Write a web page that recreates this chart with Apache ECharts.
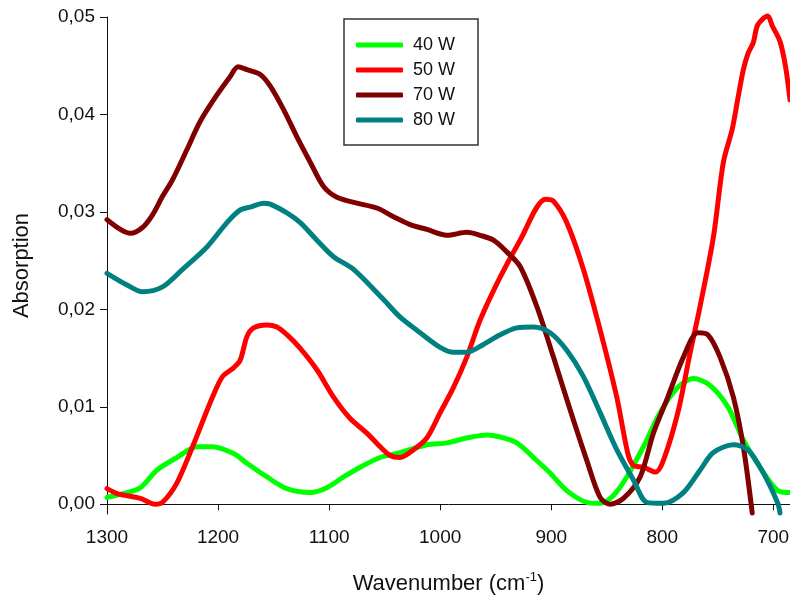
<!DOCTYPE html>
<html>
<head>
<meta charset="utf-8">
<script src="https://cdn.jsdelivr.net/npm/echarts@6/dist/echarts.min.js"></script>
<style>
  html, body { margin: 0; padding: 0; background: #fff; }
  #box1 { width: 790px; height: 600px; }
</style>
</head>
<body>
<div id="box1"></div>
<script>
// wavenumber (cm-1), absorption
let names = ['40 W', '50 W', '70 W', '80 W'];
let colors = ['#00ff00', '#ff0000', '#800000', '#008080'];
let xTicks = [1300, 1200, 1100, 1000, 900, 800, 700];
let yTicks = [0, 0.01, 0.02, 0.03, 0.04, 0.05];

let w40 = [
    [1300, 0.0007], [1282, 0.0012], [1270, 0.0017], [1255, 0.0035], [1237, 0.0048],
    [1219, 0.0059], [1205, 0.0059], [1186, 0.0052], [1174, 0.0042], [1156, 0.0028],
    [1138, 0.0016], [1117, 0.0012], [1102, 0.0017], [1087, 0.0028], [1072, 0.0038],
    [1054, 0.0048], [1036, 0.0053], [1012, 0.0061], [994, 0.0063], [976, 0.0068],
    [958, 0.0071], [946, 0.0069], [931, 0.0063], [916, 0.0048], [901, 0.0032],
    [886, 0.0014], [868, 0.0002], [856, 0.0001], [844, 0.0009], [832, 0.0028],
    [817, 0.0059], [802, 0.0094], [786, 0.0120], [772, 0.0129], [757, 0.0122],
    [741, 0.0100], [727, 0.0066], [712, 0.0038], [696, 0.0014], [685, 0.0012]
];
let w50 = [
    [1300, 0.0016], [1291, 0.0011], [1270, 0.0006], [1257, 0.0000], [1250, 0.0002],
    [1237, 0.0022], [1223, 0.0059], [1205, 0.0110], [1196, 0.0131], [1186, 0.0140],
    [1180, 0.0148], [1174, 0.0172], [1168, 0.0181], [1156, 0.0184], [1147, 0.0182],
    [1138, 0.0174], [1126, 0.0160], [1111, 0.0138], [1096, 0.0110], [1081, 0.0088],
    [1066, 0.0073], [1054, 0.0059], [1045, 0.0050], [1036, 0.0048], [1024, 0.0056],
    [1012, 0.0068], [1000, 0.0094], [988, 0.0120], [976, 0.0151], [964, 0.0189],
    [946, 0.0233], [928, 0.0271], [905, 0.0313], [898, 0.0311], [886, 0.0289],
    [871, 0.0241], [856, 0.0179], [841, 0.0110], [831, 0.0052], [826, 0.0040],
    [817, 0.0038], [806, 0.0033], [799, 0.0045], [786, 0.0094], [775, 0.0155],
    [766, 0.0203], [754, 0.0274], [745, 0.0351], [737, 0.0385], [732, 0.0416],
    [727, 0.0446], [723, 0.0462], [718, 0.0474], [714, 0.0492], [705, 0.0501],
    [701, 0.0491], [694, 0.0475], [689, 0.0449], [685, 0.0415]
];
let w70 = [
    [1300, 0.0292], [1279, 0.0278], [1268, 0.0284], [1259, 0.0297], [1250, 0.0316],
    [1241, 0.0333], [1228, 0.0364], [1216, 0.0393], [1201, 0.0420], [1189, 0.0439],
    [1182, 0.0449], [1174, 0.0446], [1162, 0.0441], [1153, 0.0429], [1141, 0.0405],
    [1129, 0.0377], [1117, 0.0351], [1105, 0.0326], [1093, 0.0315], [1075, 0.0309],
    [1057, 0.0304], [1042, 0.0295], [1027, 0.0287], [1012, 0.0282], [994, 0.0276],
    [976, 0.0279], [964, 0.0276], [952, 0.0271], [940, 0.0259], [928, 0.0244],
    [913, 0.0203], [898, 0.0151], [883, 0.0097], [868, 0.0045], [856, 0.0007],
    [847, 0.0000], [835, 0.0006], [820, 0.0028], [808, 0.0073], [795, 0.0110],
    [781, 0.0151], [768, 0.0176], [759, 0.0174], [748, 0.0151], [736, 0.0110],
    [727, 0.0059], [719, -0.0009]
];
let w80 = [
    [1300, 0.0237], [1282, 0.0225], [1268, 0.0218], [1250, 0.0223], [1232, 0.0241],
    [1210, 0.0264], [1192, 0.0289], [1180, 0.0302], [1171, 0.0305], [1159, 0.0309],
    [1153, 0.0308], [1138, 0.0299], [1126, 0.0289], [1111, 0.0271], [1096, 0.0254],
    [1078, 0.0241], [1051, 0.0210], [1036, 0.0192], [1018, 0.0176], [1000, 0.0161],
    [988, 0.0156], [976, 0.0156], [961, 0.0164], [946, 0.0174], [931, 0.0181],
    [916, 0.0182], [901, 0.0176], [886, 0.0158], [871, 0.0131], [856, 0.0094],
    [841, 0.0056], [826, 0.0025], [814, 0.0002], [799, 0.0001], [781, 0.0012],
    [766, 0.0035], [754, 0.0053], [736, 0.0061], [723, 0.0056], [709, 0.0032],
    [696, 0.0001], [694, -0.0009]
];
let seriesData = [w40, w50, w70, w80];

let font = 'Liberation Sans';
let myChart1 = echarts.init(document.querySelector('#box1'));
let option1 = {
    animation: false,
    grid: { left: 107, right: 0, top: 17, bottom: 86, outerBoundsMode: 'none' },
    legend: {
        orient: 'vertical',
        left: 344,
        top: 19,
        padding: [17, 23, 16, 12],
        icon: 'roundRect',
        itemWidth: 47,
        itemHeight: 5,
        itemGap: 7,
        borderColor: '#333',
        borderWidth: 1.5,
        data: names,
        textStyle: { fontFamily: font, fontSize: 18, color: '#111', padding: [0, 0, 0, 5] }
    },
    xAxis: {
        type: 'value',
        inverse: true,
        min: 685,
        max: 1300,
        name: 'Wavenumber (cm{sup|-1})',
        nameLocation: 'middle',
        nameGap: 57,
        nameTextStyle: {
            fontFamily: font, fontSize: 22, color: '#111',
            rich: { sup: { fontFamily: font, fontSize: 13, color: '#111', padding: [0, 0, 12, 0] } }
        },
        axisLine: { lineStyle: { color: '#111', width: 1 } },
        axisTick: { length: 6, customValues: xTicks, lineStyle: { color: '#111' } },
        axisLabel: {
            customValues: xTicks, fontFamily: font, fontSize: 19, color: '#111', margin: 14,
            formatter: function (v) { return String(v); }
        },
        splitLine: { show: false }
    },
    yAxis: {
        type: 'value',
        min: -0.001,
        max: 0.05,
        name: 'Absorption',
        nameLocation: 'middle',
        nameGap: 74,
        nameTextStyle: { fontFamily: font, fontSize: 22, color: '#111' },
        axisLine: { show: true, lineStyle: { color: '#111', width: 1 } },
        axisTick: { show: true, length: 7, customValues: yTicks, lineStyle: { color: '#111' } },
        axisLabel: {
            customValues: yTicks, fontFamily: font, fontSize: 19, color: '#111', margin: 12,
            formatter: function (v) { return v.toFixed(2).replace('.', ','); }
        },
        splitLine: { show: false }
    },
    series: seriesData.map(function (d, i) {
        return {
            name: names[i],
            type: 'line',
            data: d,
            symbol: 'none',
            smooth: 0.3,
            clip: false,
            color: colors[i],
            lineStyle: { width: 5, color: colors[i], cap: 'round', join: 'round' }
        };
    })
};
myChart1.setOption(option1);
</script>
</body>
</html>
